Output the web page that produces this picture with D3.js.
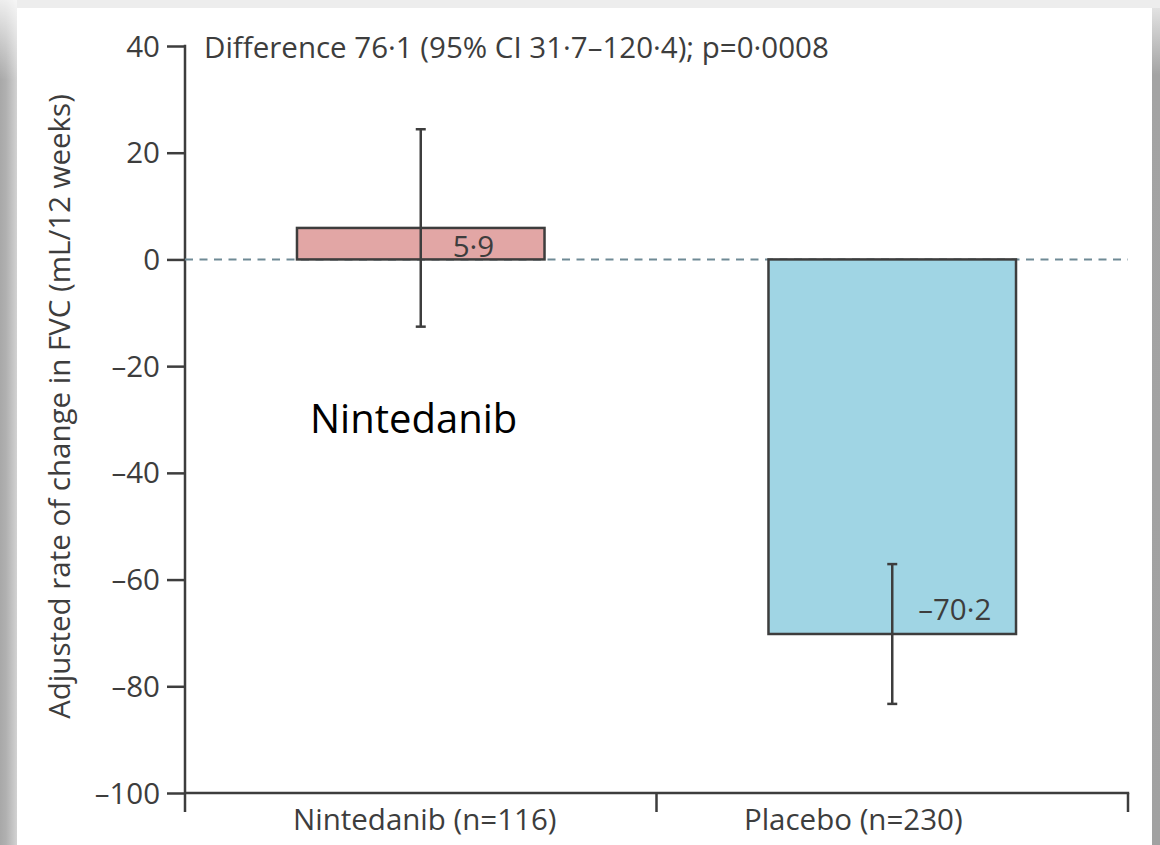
<!DOCTYPE html>
<html>
<head>
<meta charset="utf-8">
<script src="https://cdn.jsdelivr.net/npm/d3@7"></script>
<style>
  html, body { margin: 0; padding: 0; background: #fff; }
  svg { display: block; }
</style>
</head>
<body>
<script>
// Adjusted annual rate of FVC decline, nintedanib vs placebo
const categories = ["Nintedanib (n=116)", "Placebo (n=230)"];
const values = [5.9, -70.2];
const ciLow = [-12.6, -83.3];
const ciHigh = [24.4, -57.1];
const valueLabels = ["5·9", "–70·2"];
const yTicks = [40, 20, 0, -20, -40, -60, -80, -100];
const fills = ["#e2a6a5", "#a0d5e4"];
const titleText = "Difference 76·1 (95% CI 31·7–120·4); p=0·0008";
const yLabelText = "Adjusted rate of change in FVC (mL/12 weeks)";
const noteText = "Nintedanib";

const W = 1160, H = 845;
const ink = "#3d3d3d";
const font = "'Open Sans', 'Noto Sans', sans-serif";
const fs = 29.5;

const svg = d3.select("body").append("svg").attr("width", W).attr("height", H);

// slide frame: shaded edges around a white page
const defs = svg.append("defs");
const gl = defs.append("linearGradient").attr("id", "leftEdge").attr("x1", 0).attr("x2", 1).attr("y1", 0).attr("y2", 0);
gl.append("stop").attr("offset", "0").attr("stop-color", "#a8a8a8");
gl.append("stop").attr("offset", "0.35").attr("stop-color", "#b0b0b0");
gl.append("stop").attr("offset", "0.7").attr("stop-color", "#c2c2c2");
gl.append("stop").attr("offset", "1").attr("stop-color", "#d2d2d2");
const gr = defs.append("linearGradient").attr("id", "rightEdge").attr("x1", 0).attr("x2", 0).attr("y1", 0).attr("y2", 1);
gr.append("stop").attr("offset", "0").attr("stop-color", "#e2e2e2");
gr.append("stop").attr("offset", "0.08").attr("stop-color", "#a3a3a3");
gr.append("stop").attr("offset", "1").attr("stop-color", "#a1a1a1");
const gt = defs.append("linearGradient").attr("id", "topLeft").attr("x1", 0).attr("x2", 0).attr("y1", 0).attr("y2", 1);
gt.append("stop").attr("offset", "0").attr("stop-color", "#ffffff").attr("stop-opacity", 0.8);
gt.append("stop").attr("offset", "1").attr("stop-color", "#ffffff").attr("stop-opacity", 0);

svg.append("rect").attr("width", W).attr("height", H).attr("fill", "#fff");
svg.append("rect").attr("x", 0).attr("y", 0).attr("width", W).attr("height", 8).attr("fill", "#ededed");
svg.append("rect").attr("x", 0).attr("y", 0).attr("width", 17).attr("height", H).attr("fill", "url(#leftEdge)");
svg.append("rect").attr("x", 0).attr("y", 0).attr("width", 17).attr("height", 80).attr("fill", "url(#topLeft)");
svg.append("rect").attr("x", 1152).attr("y", 8).attr("width", 8).attr("height", H - 8).attr("fill", "url(#rightEdge)");

// scales
const y = d3.scaleLinear().domain([-100, 40]).range([793, 46]);
const x = d3.scaleBand().domain(categories).range([185, 1128]).padding(0);
const barW = x.bandwidth() * 0.525;
const cx = c => x(c) + x.bandwidth() / 2;
const fmt = d => d < 0 ? "–" + Math.abs(d) : String(d);

// y axis
const yAxis = svg.append("g").attr("transform", `translate(${x.range()[0]},0)`)
  .call(d3.axisLeft(y).tickValues(yTicks).tickSize(18).tickSizeOuter(0).tickPadding(7).tickFormat(fmt));
yAxis.select(".domain").remove();
yAxis.selectAll(".tick line").attr("stroke", ink).attr("stroke-width", 2.5);
yAxis.selectAll(".tick text").attr("fill", ink).attr("font-family", font).attr("font-size", fs).attr("dy", "0.34em");
svg.append("line")
  .attr("x1", x.range()[0]).attr("x2", x.range()[0])
  .attr("y1", y(40) - 1.2).attr("y2", y(-100) + 19)
  .attr("stroke", ink).attr("stroke-width", 2.5);

// x axis: baseline, category boundary ticks, labels
const xBase = y(-100);
svg.append("line")
  .attr("x1", x.range()[0]).attr("x2", x.range()[1] + 1.2)
  .attr("y1", xBase).attr("y2", xBase)
  .attr("stroke", ink).attr("stroke-width", 2.5);
svg.selectAll(".xtick").data(categories).join("line").attr("class", "xtick")
  .attr("x1", c => x(c) + x.bandwidth()).attr("x2", c => x(c) + x.bandwidth())
  .attr("y1", xBase).attr("y2", xBase + 19)
  .attr("stroke", ink).attr("stroke-width", 2.5);
const labelShift = [4, -39];
svg.selectAll(".xlabel").data(categories).join("text").attr("class", "xlabel")
  .attr("x", (c, i) => cx(c) + labelShift[i]).attr("y", 830)
  .attr("text-anchor", "middle").attr("fill", ink)
  .attr("font-family", font).attr("font-size", fs)
  .text(c => c);

// zero reference line
svg.append("line")
  .attr("x1", x.range()[0]).attr("x2", x.range()[1])
  .attr("y1", y(0)).attr("y2", y(0))
  .attr("stroke", "#6f8a95").attr("stroke-width", 2).attr("stroke-dasharray", "8,6.5");

// bars
svg.selectAll(".bar").data(categories).join("rect").attr("class", "bar")
  .attr("x", c => cx(c) - barW / 2)
  .attr("width", barW)
  .attr("y", (c, i) => y(Math.max(0, values[i])))
  .attr("height", (c, i) => Math.abs(y(values[i]) - y(0)))
  .attr("fill", (c, i) => fills[i])
  .attr("stroke", ink).attr("stroke-width", 2.5);

// 95% CI whiskers
const capHalf = 5;
const err = svg.selectAll(".err").data(categories).join("g").attr("class", "err")
  .attr("stroke", ink).attr("stroke-width", 2.5);
err.append("line").attr("x1", c => cx(c)).attr("x2", c => cx(c))
  .attr("y1", (c, i) => y(ciHigh[i])).attr("y2", (c, i) => y(ciLow[i]));
err.append("line").attr("x1", c => cx(c) - capHalf).attr("x2", c => cx(c) + capHalf)
  .attr("y1", (c, i) => y(ciHigh[i])).attr("y2", (c, i) => y(ciHigh[i]));
err.append("line").attr("x1", c => cx(c) - capHalf).attr("x2", c => cx(c) + capHalf)
  .attr("y1", (c, i) => y(ciLow[i])).attr("y2", (c, i) => y(ciLow[i]));

// value labels inside the bars, to the right of the whisker
const labelDx = [32, 26];
svg.selectAll(".vlabel").data(categories).join("text").attr("class", "vlabel")
  .attr("x", (c, i) => cx(c) + labelDx[i])
  .attr("y", (c, i) => values[i] >= 0 ? y(0) - 2 : y(values[i]) - 14)
  .attr("fill", ink).attr("font-family", font).attr("font-size", fs)
  .text((c, i) => valueLabels[i]);

// heading
svg.append("text").attr("x", 204).attr("y", 58)
  .attr("fill", ink).attr("font-family", font).attr("font-size", fs)
  .text(titleText);

// y axis title
svg.append("text")
  .attr("transform", `translate(70,${(y(40) + y(-100)) / 2 - 13}) rotate(-90)`)
  .attr("text-anchor", "middle").attr("fill", ink)
  .attr("font-family", font).attr("font-size", fs)
  .text(yLabelText);

// annotation
svg.append("text").attr("x", 310).attr("y", 433)
  .attr("fill", "#000").attr("font-family", "'Open Sans', sans-serif").attr("font-size", 40)
  .text(noteText);
</script>
</body>
</html>
